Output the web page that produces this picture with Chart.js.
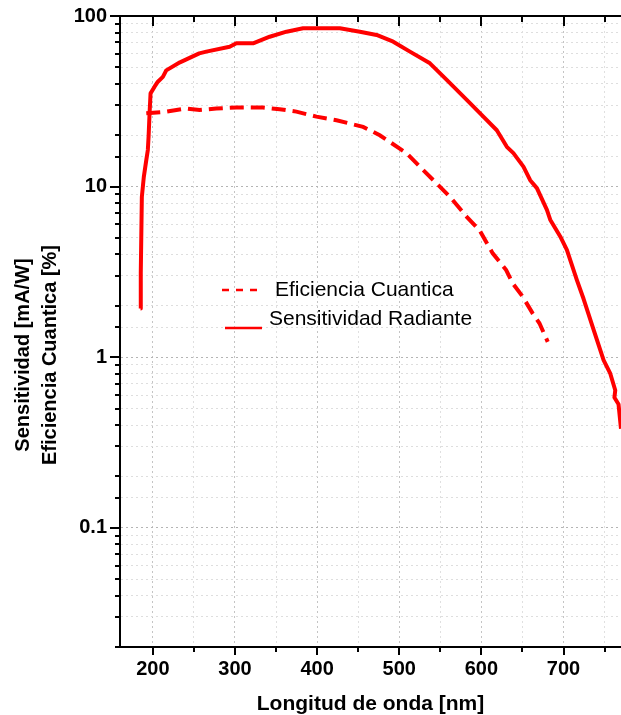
<!DOCTYPE html>
<html>
<head>
<meta charset="utf-8">
<script src="https://cdn.jsdelivr.net/npm/chart.js@4.4.1/dist/chart.umd.min.js"></script>
<style>
  html, body { margin: 0; padding: 0; background: #fff; }
  canvas { display: block; }
</style>
</head>
<body>
<canvas id="spectrum" width="621" height="715"></canvas>
<script>
// Sensitividad radiante [mA/W] vs longitud de onda [nm]
const wlRadiante = [185.0, 185.3, 186.6, 189.0, 192.0, 193.9, 194.8, 196.0, 197.2, 202.1,
  206.1, 212.2, 216.3, 233.0, 256.5, 265.1, 293.5, 301.7, 322.0, 342.3,
  362.7, 382.9, 399.3, 427.7, 452.1, 472.4, 492.7, 513.0, 537.4, 557.8,
  582.2, 602.4, 618.8, 631.0, 639.0, 651.2, 659.4, 667.6, 679.8, 683.8,
  696.0, 704.1, 716.3, 724.4, 736.6, 748.8, 757.0, 763.0, 762.0, 767.0, 770.0];
const sensRadiante = [1.93, 3.1, 8.7, 11.4, 14.3, 16.4, 19.6, 26.9, 35.2, 38.5,
  41.2, 44.0, 48.0, 53.5, 60.4, 61.8, 66.0, 69.2, 69.2, 75.6,
  80.9, 84.7, 84.7, 84.7, 80.9, 77.4, 70.7, 61.8, 52.8, 42.2,
  32.2, 25.7, 21.4, 17.1, 15.7, 13.1, 10.9, 9.8, 7.3, 6.4,
  5.1, 4.25, 2.83, 2.2, 1.45, 0.96, 0.80, 0.64, 0.58, 0.53, 0.38];

// Eficiencia cuantica [%] vs longitud de onda [nm]
const wlCuantica = [192.0, 216.3, 240.7, 256.9, 277.3, 301.7, 334.1, 354.5, 374.8, 399.2,
  423.6, 456.0, 476.3, 508.9, 529.2, 547.6, 561.8, 582.2, 597.6, 613.8,
  630.2, 638.2, 650.4, 662.6, 670.7, 680.8];
const efCuantica = [26.9, 27.5, 28.7, 28.1, 28.7, 29.1, 29.1, 28.4, 27.5, 25.7,
  24.5, 22.4, 20.0, 15.7, 12.5, 10.2, 8.7, 6.65, 5.56, 4.06,
  3.24, 2.71, 2.26, 1.80, 1.58, 1.23];

// axis tick labels
const xTickLabels = [200, 300, 400, 500, 600, 700];
const yTickLabels = [0.1, 1, 10, 100];

const RED = '#ff0000';
const FONT = "'Liberation Sans', Arial, sans-serif";

const isLabelled = (list, v) => list.some(l => Math.abs(l - v) < 1e-9 * Math.max(1, l));
const toPoints = (xs, ys) => xs.map((x, i) => ({ x, y: ys[i] }));

// frame, tick marks, y title and legend
const axisDecor = {
  id: 'axisDecor',
  afterDraw(chart) {
    const { ctx, chartArea: a, scales: { x, y } } = chart;
    ctx.save();
    ctx.strokeStyle = '#000';
    ctx.lineWidth = 2;
    ctx.beginPath();
    ctx.moveTo(a.left - 1, a.top);
    ctx.lineTo(a.right, a.top);
    ctx.stroke();

    ctx.beginPath();
    y.ticks.forEach(t => {
      const py = Math.round(y.getPixelForValue(t.value));
      const len = isLabelled(yTickLabels, t.value) ? 10 : 5;
      ctx.moveTo(a.left - len, py);
      ctx.lineTo(a.left, py);
    });
    x.ticks.forEach(t => {
      const px = Math.round(x.getPixelForValue(t.value));
      const major = t.value % 100 === 0;
      ctx.moveTo(px, a.bottom);
      ctx.lineTo(px, a.bottom + (major ? 8 : 5));
      ctx.moveTo(px, a.top);
      ctx.lineTo(px, a.top + (major ? 10 : 6));
    });
    ctx.stroke();

    // y axis title, two lines
    ctx.fillStyle = '#000';
    ctx.font = 'bold 20px ' + FONT;
    ctx.textAlign = 'center';
    ctx.textBaseline = 'middle';
    ctx.translate(0, 355);
    ctx.rotate(-Math.PI / 2);
    ctx.fillText('Sensitividad [mA/W]', 0, 23);
    ctx.fillText('Eficiencia Cuantica [%]', 0, 50);
    ctx.setTransform(1, 0, 0, 1, 0, 0);

    // legend
    ctx.strokeStyle = RED;
    ctx.lineWidth = 2.5;
    ctx.setLineDash([7, 7]);
    ctx.beginPath();
    ctx.moveTo(222, 290);
    ctx.lineTo(258, 290);
    ctx.stroke();
    ctx.setLineDash([]);
    ctx.beginPath();
    ctx.moveTo(225, 328);
    ctx.lineTo(262, 328);
    ctx.stroke();

    ctx.font = '21px ' + FONT;
    ctx.textAlign = 'left';
    ctx.fillText('Eficiencia Cuantica', 275, 290);
    ctx.fillText('Sensitividad Radiante', 269, 319);
    ctx.restore();
  }
};

new Chart(document.getElementById('spectrum'), {
  type: 'scatter',
  data: {
    datasets: [
      {
        label: 'Sensitividad Radiante',
        data: toPoints(wlRadiante, sensRadiante),
        showLine: true,
        borderColor: RED,
        borderWidth: 4,
        borderJoinStyle: 'round',
        pointRadius: 0,
        tension: 0
      },
      {
        label: 'Eficiencia Cuantica',
        data: toPoints(wlCuantica, efCuantica),
        showLine: true,
        borderColor: RED,
        borderWidth: 4,
        borderDash: [14, 7],
        pointRadius: 0,
        tension: 0
      }
    ]
  },
  options: {
    responsive: false,
    animation: false,
    events: [],
    layout: { padding: { top: 16, right: 0, bottom: 0, left: 0 } },
    plugins: { legend: { display: false }, tooltip: { enabled: false } },
    scales: {
      x: {
        type: 'linear',
        min: 160,
        max: 770,
        afterFit(scale) {
          scale.height = 68;
          scale.paddingLeft = 0;
          scale.paddingRight = 0;
        },
        ticks: {
          stepSize: 50,
          includeBounds: false,
          autoSkip: false,
          maxRotation: 0,
          padding: 10,
          color: '#000',
          font: { family: FONT, size: 20, weight: 'bold' },
          callback: v => (isLabelled(xTickLabels, v) ? String(v) : '')
        },
        grid: {
          drawTicks: false,
          lineWidth: 1,
          color: c => (c.tick && c.tick.value % 100 === 0 ? '#c4c4c4' : '#e0e0e0')
        },
        border: { display: true, color: '#000', width: 2, dash: [2, 3] },
        title: {
          display: true,
          text: 'Longitud de onda [nm]',
          color: '#000',
          padding: 0,
          font: { family: FONT, size: 21, weight: 'bold', lineHeight: 1 }
        }
      },
      y: {
        type: 'logarithmic',
        min: 0.02,
        max: 100,
        afterFit(scale) {
          scale.width = 120;
          scale.paddingTop = 0;
          scale.paddingBottom = 0;
        },
        ticks: {
          autoSkip: false,
          padding: 13,
          color: '#000',
          font: { family: FONT, size: 20, weight: 'bold' },
          callback: v => (isLabelled(yTickLabels, v) ? String(v) : '')
        },
        grid: {
          drawTicks: false,
          lineWidth: 1,
          color: c => (c.tick && isLabelled(yTickLabels, c.tick.value) ? '#b4b4b4' : '#dedede')
        },
        border: { display: true, color: '#000', width: 2, dash: [2, 3] }
      }
    }
  },
  plugins: [axisDecor]
});
</script>
</body>
</html>
